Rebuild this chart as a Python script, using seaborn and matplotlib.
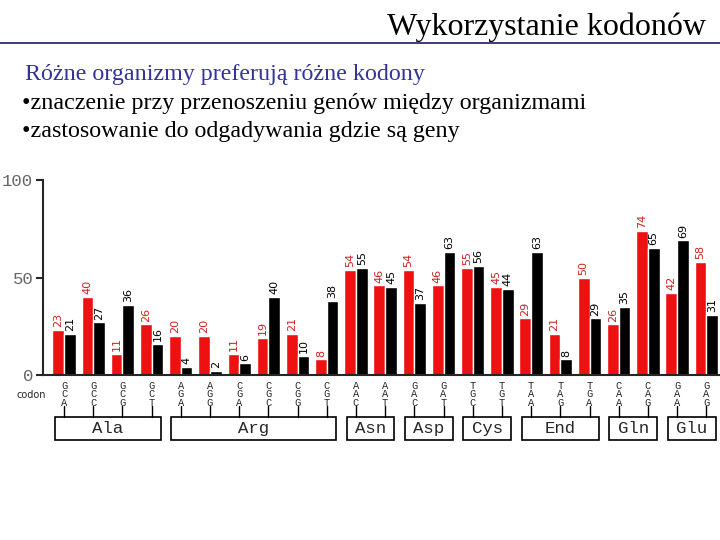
import matplotlib
matplotlib.use("Agg")
import matplotlib.pyplot as plt
from matplotlib.patches import Rectangle
import seaborn as sns
import pandas as pd

# dane - kodony i czestosc uzycia dla dwoch organizmow
codons = ["GCA", "GCC", "GCG", "GCT",
          "AGA", "AGG", "CGA", "CGC", "CGG", "CGT",
          "AAC", "AAT", "GAC", "GAT", "TGC", "TGT",
          "TAA", "TAG", "TGA", "CAA", "CAG", "GAA", "GAG"]
red_values = [23, 40, 11, 26, 20, 20, 11, 19, 21, 8,
              54, 46, 54, 46, 55, 45, 29, 21, 50, 26, 74, 42, 58]
black_values = [21, 27, 36, 16, 4, 2, 6, 40, 10, 38,
                55, 45, 37, 63, 56, 44, 63, 8, 29, 35, 65, 69, 31]
amino_acids = ["Ala", "Arg", "Asn", "Asp", "Cys", "End", "Gln", "Glu"]
amino_sizes = [4, 6, 2, 2, 2, 3, 2, 2]
series_names = ["organizm 1", "organizm 2"]

sns.set_style("ticks")
plt.rcParams["font.family"] = ["Liberation Serif", "DejaVu Serif"]

df = pd.DataFrame({
    "codon": codons * 2,
    "value": red_values + black_values,
    "series": [series_names[0]] * len(codons) + [series_names[1]] * len(codons),
})

fig = plt.figure(figsize=(7.2, 5.4), dpi=100)

# naglowek slajdu
fig.text(0.981, 1 - 42 / 540, "Wykorzystanie kodonów", ha="right", va="bottom",
         fontsize=23, family="Liberation Serif", color="black")
fig.add_artist(plt.Line2D([0, 1], [1 - 43 / 540, 1 - 43 / 540], color="#1c1c5a", lw=1.2))
fig.text(25 / 720, 1 - 80 / 540, "Różne organizmy preferują różne kodony",
         fontsize=17.3, family="Liberation Serif", color="#333399", va="baseline")
fig.text(22 / 720, 1 - 109 / 540, "•znaczenie przy przenoszeniu genów między organizmami",
         fontsize=17.3, family="Liberation Serif", color="black", va="baseline")
fig.text(22 / 720, 1 - 137 / 540, "•zastosowanie do odgadywania gdzie są geny",
         fontsize=17.3, family="Liberation Serif", color="black", va="baseline")

# os wykresu
ax = fig.add_axes([43 / 720, 1 - 375 / 540, (720 - 43) / 720, 195 / 540])
sns.barplot(data=df, x="codon", y="value", hue="series", order=codons,
            palette=["#ee1111", "black"], saturation=1, width=0.8,
            legend=False, ax=ax)

ax.set_ylim(0, 100)
ax.set_xlim(-0.72, 22.47)
ax.set_yticks([0, 50, 100])
ax.set_xticks([])
ax.set_xlabel("")
ax.set_ylabel("")
ax.tick_params(axis="y", length=5, width=1.5, labelsize=12.5, labelcolor="#666666", pad=2)
for lab in ax.get_yticklabels():
    lab.set_family("Liberation Mono")
sns.despine(ax=ax)
ax.spines["left"].set_linewidth(1.5)
ax.spines["bottom"].set_linewidth(1.5)

# etykiety wartosci nad slupkami
for cont, col in zip(ax.containers, ["#cc2222", "black"]):
    ax.bar_label(cont, fmt="%d", rotation=90, padding=2, fontsize=8,
                 color=col, family="DejaVu Sans")

# etykiety kodonow (litery pionowo)
trans = ax.get_xaxis_transform()
for i, c in enumerate(codons):
    ax.text(i, -0.03, "\n".join(c), transform=trans, ha="center", va="top",
            fontsize=7.5, family="Liberation Mono", linespacing=0.8, clip_on=False)
    ax.plot([i, i], [-0.16, -0.215], transform=trans, color="black", lw=1, clip_on=False)

fig.text(31 / 720, 1 - 395 / 540, "codon", ha="center", va="center",
         fontsize=7, family="DejaVu Sans")

# ramki z aminokwasami
start = 0
for name, n in zip(amino_acids, amino_sizes):
    x0 = start - 0.32
    x1 = start + n - 1 + 0.32
    ax.add_patch(Rectangle((x0, -0.333), x1 - x0, 0.118, transform=trans,
                           fill=False, edgecolor="black", lw=1.2, clip_on=False))
    ax.text((x0 + x1) / 2, -0.274, name, transform=trans, ha="center", va="center",
            fontsize=12.5, family="Liberation Mono", clip_on=False)
    start += n

fig.savefig("out.png", dpi=100)
